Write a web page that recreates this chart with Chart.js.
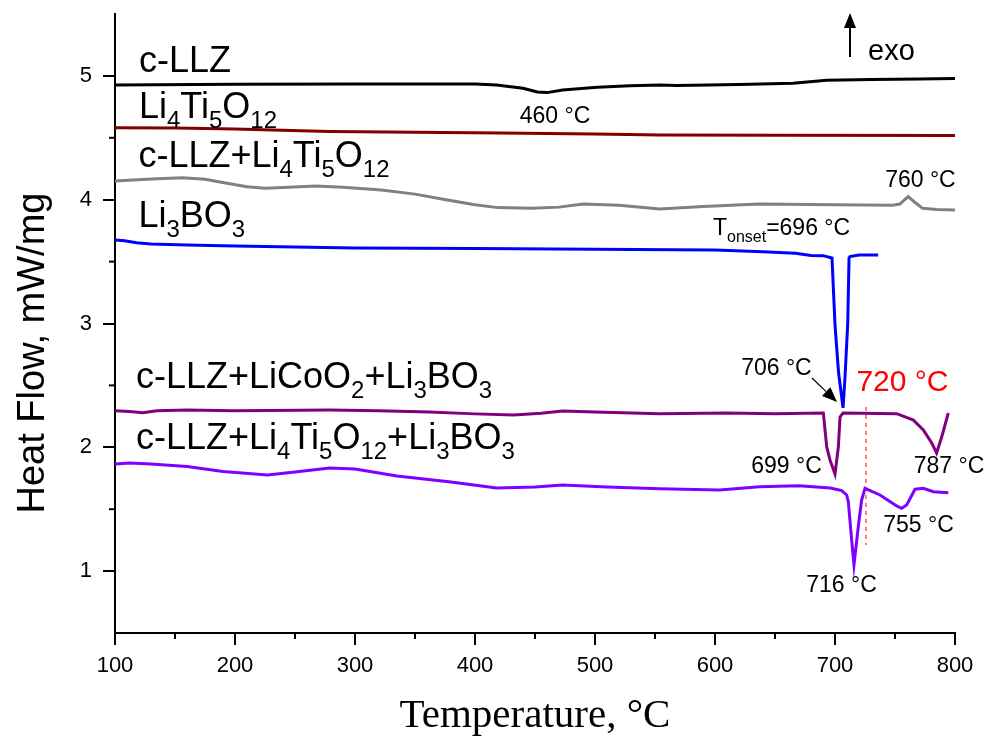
<!DOCTYPE html>
<html>
<head>
<meta charset="utf-8">
<title>DSC curves</title>
<script src="https://cdn.jsdelivr.net/npm/chart.js@4.4.1/dist/chart.umd.min.js"></script>
<style>
  body { margin: 0; background: #fff; }
</style>
</head>
<body>
<canvas id="dsc" width="987" height="738"></canvas>
<script>
// --- data (temperature in °C, heat flow in mW/mg) ---
const llzT = [100, 200, 300, 400, 418, 440, 452, 460, 473, 502, 529, 554, 568, 620, 665, 693, 730, 770, 800];
const llzHF = [4.927, 4.933, 4.935, 4.935, 4.927, 4.9, 4.87, 4.865, 4.886, 4.908, 4.921, 4.927, 4.922, 4.93, 4.94, 4.965, 4.97, 4.975, 4.98];

const ltoT = [100, 150, 200, 279, 350, 421, 500, 554, 650, 800];
const ltoHF = [4.582, 4.58, 4.572, 4.55, 4.545, 4.539, 4.53, 4.523, 4.52, 4.519];

const llzLtoT = [100, 115, 135, 156, 175, 192, 210, 225, 245, 267, 290, 322, 350, 377, 400, 419, 447, 470, 490, 520, 554, 590, 637, 700, 748, 754, 761, 767, 773, 785, 800];
const llzLtoHF = [4.151, 4.16, 4.17, 4.178, 4.165, 4.135, 4.105, 4.092, 4.1, 4.111, 4.1, 4.079, 4.045, 3.998, 3.96, 3.936, 3.93, 3.94, 3.966, 3.955, 3.925, 3.945, 3.966, 3.96, 3.955, 3.965, 4.025, 3.975, 3.93, 3.92, 3.917];

const lboT = [100, 108, 118, 130, 160, 200, 300, 400, 500, 600, 640, 667, 680, 690, 697.5, 700, 703, 706.7, 708.3, 710.6, 711.7, 712.5, 720, 736];
const lboHF = [3.675, 3.668, 3.652, 3.643, 3.635, 3.627, 3.61, 3.605, 3.6, 3.594, 3.58, 3.567, 3.55, 3.548, 3.529, 2.988, 2.6, 2.318, 2.56, 3.0, 3.529, 3.54, 3.553, 3.553];

const llzLcoLboT = [100, 112, 123, 135, 160, 200, 279, 320, 362, 400, 432, 455, 473, 500, 554, 610, 650, 690.3, 693.1, 695.8, 700, 702.8, 704.2, 706.7, 751.4, 765.3, 773.6, 780.6, 784.7, 788.9, 794.4];
const llzLcoLboHF = [2.296, 2.29, 2.28, 2.295, 2.301, 2.296, 2.301, 2.295, 2.285, 2.27, 2.261, 2.275, 2.293, 2.285, 2.272, 2.277, 2.272, 2.277, 2.003, 1.898, 1.784, 2.003, 2.245, 2.277, 2.272, 2.22, 2.14, 2.035, 1.954, 2.083, 2.277];

const llzLtoLboT = [100, 112, 130, 160, 190, 227, 250, 279, 300, 335, 380, 418, 450, 473, 510, 554, 604, 637, 670, 696, 705.6, 709.7, 711.1, 713.9, 715.8, 719.4, 722.2, 725, 737.5, 751.4, 755.6, 759.7, 766.7, 773.6, 782, 794.4];
const llzLtoLboHF = [1.865, 1.873, 1.865, 1.845, 1.805, 1.776, 1.8, 1.833, 1.825, 1.768, 1.72, 1.671, 1.68, 1.696, 1.68, 1.666, 1.655, 1.682, 1.69, 1.671, 1.65, 1.615, 1.561, 1.251, 1.049, 1.359, 1.574, 1.669, 1.615, 1.526, 1.507, 1.534, 1.661, 1.669, 1.641, 1.633];

// dashed marker at the 720 °C event
const markerT = [725.8, 725.8];
const markerHF = [2.326, 1.211];

// axis ticks
const majorTempTicks = [100, 200, 300, 400, 500, 600, 700, 800];
const minorTempTicks = [150, 250, 350, 450, 550, 650, 750];
const majorHfTicks = [1, 2, 3, 4, 5];
const minorHfTicks = [1.5, 2.5, 3.5, 4.5];

const SANS = 'Arial, "Liberation Sans", sans-serif';
const SERIF = '"Times New Roman", "Liberation Serif", serif';

// text labels placed in data coordinates; _{..} marks a subscript
const notes = [
  { text: 'c-LLZ', t: 120, hf: 5.032, size: 36, align: 'left' },
  { text: 'Li_{4}Ti_{5}O_{12}', t: 120, hf: 4.66, size: 36, align: 'left' },
  { text: 'c-LLZ+Li_{4}Ti_{5}O_{12}', t: 119.5, hf: 4.264, size: 36, align: 'left' },
  { text: 'Li_{3}BO_{3}', t: 119.5, hf: 3.78, size: 36, align: 'left' },
  { text: 'c-LLZ+LiCoO_{2}+Li_{3}BO_{3}', t: 117.5, hf: 2.479, size: 36, align: 'left' },
  { text: 'c-LLZ+Li_{4}Ti_{5}O_{12}+Li_{3}BO_{3}', t: 117.5, hf: 1.986, size: 36, align: 'left' },
  { text: '460 °C', t: 466.7, hf: 4.62, size: 23, align: 'center' },
  { text: '760 °C', t: 771.2, hf: 4.103, size: 23, align: 'center' },
  { text: 'T_{onset}=696 °C', t: 598.3, hf: 3.715, size: 23, align: 'left' },
  { text: '706 °C', t: 651.2, hf: 2.584, size: 23, align: 'center' },
  { text: '720 °C', t: 756.2, hf: 2.455, size: 30, align: 'center', color: '#ff0000' },
  { text: '699 °C', t: 659.6, hf: 1.792, size: 23, align: 'center' },
  { text: '787 °C', t: 795, hf: 1.792, size: 23, align: 'center' },
  { text: '755 °C', t: 769.6, hf: 1.316, size: 23, align: 'center' },
  { text: '716 °C', t: 705.4, hf: 0.831, size: 23, align: 'center' },
  { text: 'exo', t: 727.5, hf: 5.129, size: 29, align: 'left' }
];

// arrows: [fromT, fromHF, toT, toHF, lineWidth]
const arrows = [
  [712.5, 5.153, 712.5, 5.508, 2],
  [680.8, 2.56, 701.7, 2.366, 1.2]
];

function pts(ts, vs) {
  return ts.map((t, i) => ({ x: t, y: vs[i] }));
}

function drawRich(ctx, text, x, y, size, align, color) {
  const parts = [];
  const re = /_\{([^}]*)\}/g;
  let last = 0, m;
  while ((m = re.exec(text)) !== null) {
    if (m.index > last) parts.push({ s: text.slice(last, m.index), sub: false });
    parts.push({ s: m[1], sub: true });
    last = re.lastIndex;
  }
  if (last < text.length) parts.push({ s: text.slice(last), sub: false });

  const mainFont = size + 'px ' + SANS;
  const subFont = Math.round(size * 0.68) + 'px ' + SANS;
  let w = 0;
  parts.forEach(p => {
    ctx.font = p.sub ? subFont : mainFont;
    p.w = ctx.measureText(p.s).width;
    w += p.w;
  });
  let cx = align === 'center' ? x - w / 2 : x;
  ctx.fillStyle = color || '#000';
  ctx.textAlign = 'left';
  ctx.textBaseline = 'alphabetic';
  parts.forEach(p => {
    ctx.font = p.sub ? subFont : mainFont;
    ctx.fillText(p.s, cx, p.sub ? y + size * 0.29 : y);
    cx += p.w;
  });
}

function drawArrow(ctx, x1, y1, x2, y2, lw) {
  const ang = Math.atan2(y2 - y1, x2 - x1);
  const hl = 15, hw = 6;
  const bx = x2 - hl * Math.cos(ang), by = y2 - hl * Math.sin(ang);
  ctx.strokeStyle = '#000';
  ctx.fillStyle = '#000';
  ctx.lineWidth = lw;
  ctx.beginPath();
  ctx.moveTo(x1, y1);
  ctx.lineTo(bx, by);
  ctx.stroke();
  ctx.beginPath();
  ctx.moveTo(x2, y2);
  ctx.lineTo(bx + hw * Math.sin(ang), by - hw * Math.cos(ang));
  ctx.lineTo(bx - hw * Math.sin(ang), by + hw * Math.cos(ang));
  ctx.closePath();
  ctx.fill();
}

const overlay = {
  id: 'overlay',
  afterDraw(chart) {
    const { ctx, chartArea } = chart;
    const x = chart.scales.x, y = chart.scales.y;
    ctx.save();

    // minor ticks
    ctx.strokeStyle = '#000';
    ctx.lineWidth = 2;
    minorTempTicks.forEach(v => {
      const px = x.getPixelForValue(v);
      ctx.beginPath();
      ctx.moveTo(px, chartArea.bottom);
      ctx.lineTo(px, chartArea.bottom + 6);
      ctx.stroke();
    });
    minorHfTicks.forEach(v => {
      const py = y.getPixelForValue(v);
      ctx.beginPath();
      ctx.moveTo(chartArea.left, py);
      ctx.lineTo(chartArea.left - 6, py);
      ctx.stroke();
    });

    // y axis title
    ctx.save();
    ctx.translate(44, 353);
    ctx.rotate(-Math.PI / 2);
    ctx.font = '38px ' + SANS;
    ctx.fillStyle = '#000';
    ctx.textAlign = 'center';
    ctx.textBaseline = 'alphabetic';
    ctx.fillText('Heat Flow, mW/mg', 0, 0);
    ctx.restore();

    notes.forEach(n => {
      drawRich(ctx, n.text, x.getPixelForValue(n.t), y.getPixelForValue(n.hf), n.size, n.align, n.color);
    });

    arrows.forEach(a => {
      drawArrow(ctx, x.getPixelForValue(a[0]), y.getPixelForValue(a[1]),
        x.getPixelForValue(a[2]), y.getPixelForValue(a[3]), a[4]);
    });

    ctx.restore();
  }
};

Chart.defaults.color = '#000';
Chart.defaults.font.family = SANS;

const line = (label, ts, vs, color) => ({
  label: label,
  data: pts(ts, vs),
  borderColor: color,
  borderWidth: 3,
  pointRadius: 0,
  tension: 0,
  fill: false
});

new Chart(document.getElementById('dsc'), {
  type: 'line',
  data: {
    datasets: [
      line('c-LLZ', llzT, llzHF, '#000000'),
      line('Li4Ti5O12', ltoT, ltoHF, '#800000'),
      line('c-LLZ+Li4Ti5O12', llzLtoT, llzLtoHF, '#808080'),
      line('c-LLZ+LiCoO2+Li3BO3', llzLcoLboT, llzLcoLboHF, '#800080'),
      line('Li3BO3', lboT, lboHF, '#0000ff'),
      line('c-LLZ+Li4Ti5O12+Li3BO3', llzLtoLboT, llzLtoLboHF, '#8000ff'),
      {
        label: '720 °C',
        data: pts(markerT, markerHF),
        borderColor: '#ff0000',
        borderWidth: 1,
        borderDash: [4, 4],
        pointRadius: 0,
        fill: false
      }
    ]
  },
  options: {
    responsive: false,
    animation: false,
    layout: { padding: { top: 14, right: 32, left: 0, bottom: 0 } },
    plugins: {
      legend: { display: false },
      tooltip: { enabled: false }
    },
    scales: {
      x: {
        type: 'linear',
        min: 100,
        max: 800,
        afterFit: s => { s.height = 105; s.paddingLeft = 0; s.paddingRight = 0; },
        afterBuildTicks: s => { s.ticks = majorTempTicks.map(v => ({ value: v })); },
        ticks: { font: { size: 22 }, padding: 8, maxRotation: 0, autoSkip: false },
        grid: { drawOnChartArea: false, tickLength: 12, color: '#000', lineWidth: 2 },
        border: { color: '#000', width: 2 },
        title: {
          display: true,
          text: 'Temperature, °C',
          font: { family: SERIF, size: 41, lineHeight: 1 },
          padding: { top: 0, bottom: 1 }
        }
      },
      y: {
        type: 'linear',
        min: 0.5,
        max: 5.5,
        afterFit: s => { s.width = 115; s.paddingTop = 0; s.paddingBottom = 0; },
        afterBuildTicks: s => { s.ticks = majorHfTicks.map(v => ({ value: v })); },
        ticks: { font: { size: 22 }, padding: 11 },
        grid: { drawOnChartArea: false, tickLength: 12, color: '#000', lineWidth: 2 },
        border: { color: '#000', width: 2 }
      }
    }
  },
  plugins: [overlay]
});
</script>
</body>
</html>
